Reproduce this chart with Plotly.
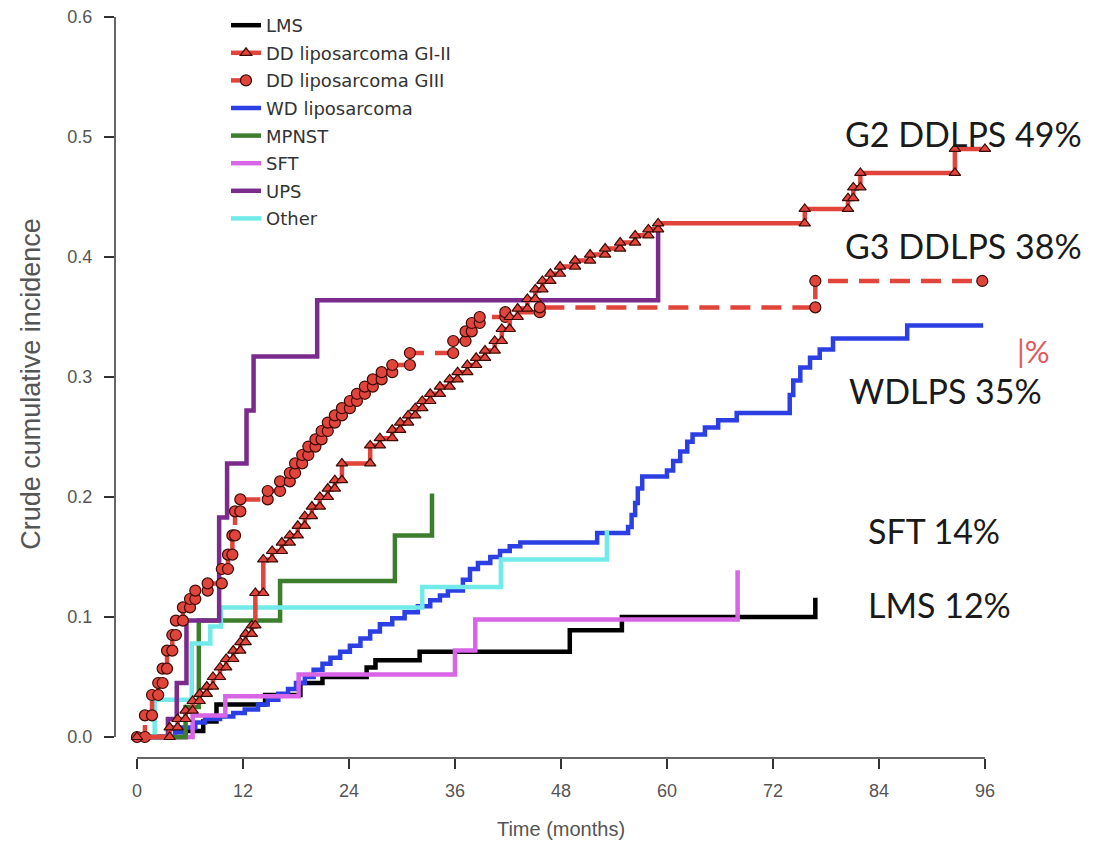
import plotly.graph_objects as go

# ---------------- data (months, crude cumulative incidence) ----------------
series_names = ["LMS", "DD liposarcoma GI-II", "DD liposarcoma GIII", "WD liposarcoma",
                "MPNST", "SFT", "UPS", "Other"]

lms_t = [0, 5.5, 7.5, 9.0, 14.5, 18.5, 21.0, 26.0, 27.0, 32.0, 49.0, 54.9, 76.8]
lms_ci = [0, 0.005, 0.013, 0.027, 0.035, 0.045, 0.050, 0.058, 0.064, 0.071, 0.089, 0.100, 0.116]

ddg2_t = [0, 3.7, 4.6, 5.5, 6.3, 7.1, 7.9, 8.6, 9.4, 10.1, 10.9, 11.7, 12.3, 13.0, 13.4, 14.3,
          15.3, 16.4, 17.3, 18.2, 19.0, 19.8, 20.7, 21.6, 22.4, 23.2, 26.4, 27.5, 28.9, 29.8,
          30.7, 31.5, 32.3, 33.2, 34.3, 35.4, 36.3, 37.4, 38.4, 39.4, 40.5, 41.3, 42.2, 43.1,
          44.2, 45.1, 45.9, 46.8, 47.9, 49.6, 51.3, 53.0, 54.7, 56.4, 57.9, 59.0, 75.6, 80.5,
          81.1, 81.9, 92.6]
ddg2_ci = [0, 0.008, 0.015, 0.022, 0.030, 0.036, 0.042, 0.050, 0.058, 0.065, 0.072, 0.079,
           0.086, 0.093, 0.120, 0.148, 0.155, 0.162, 0.168, 0.176, 0.184, 0.192, 0.200, 0.207,
           0.214, 0.228, 0.243, 0.249, 0.256, 0.262, 0.268, 0.274, 0.280, 0.286, 0.292, 0.298,
           0.304, 0.310, 0.316, 0.322, 0.330, 0.340, 0.350, 0.357, 0.365, 0.373, 0.380, 0.386,
           0.392, 0.397, 0.402, 0.407, 0.412, 0.418, 0.423, 0.428, 0.440, 0.449, 0.458, 0.470,
           0.490]

ddg3_t = [0, 0.9, 1.7, 2.4, 2.9, 3.4, 4.0, 4.4, 5.2, 6.0, 6.6, 8.0, 9.6, 10.3, 10.8, 11.1,
          11.7, 14.8, 16.2, 17.3, 17.9, 18.7, 19.4, 20.2, 20.9, 21.6, 22.4, 23.2, 24.1, 24.9,
          25.8, 26.7, 27.7, 28.9, 30.9, 35.8, 37.2, 37.9, 38.8, 41.7, 45.6, 76.8]
ddg3_ci = [0, 0.018, 0.035, 0.045, 0.057, 0.072, 0.085, 0.097, 0.108, 0.115, 0.122, 0.128,
           0.140, 0.152, 0.168, 0.188, 0.198, 0.205, 0.213, 0.220, 0.228, 0.235, 0.242, 0.248,
           0.255, 0.262, 0.268, 0.274, 0.280, 0.286, 0.292, 0.298, 0.304, 0.310, 0.320, 0.330,
           0.338, 0.345, 0.350, 0.354, 0.358, 0.380]

wd_t = [0, 4.3, 5.1, 6.6, 7.7, 9.4, 10.9, 12.2, 13.7, 14.8, 16.0, 17.1, 18.0, 19.0, 20.0,
        21.0, 21.9, 23.0, 24.1, 25.3, 26.4, 27.5, 28.9, 30.3, 31.8, 33.2, 34.3, 35.2, 36.9,
        37.7, 38.6, 40.0, 41.1, 42.2, 43.4, 52.1, 55.6, 56.0, 56.4, 56.7, 57.2, 60.0, 60.7,
        61.5, 62.3, 62.9, 64.3, 65.8, 67.9, 73.9, 74.3, 75.1, 76.2, 77.3, 78.8, 87.2]
wd_ci = [0, 0.004, 0.008, 0.012, 0.015, 0.017, 0.020, 0.023, 0.027, 0.031, 0.036, 0.040,
         0.045, 0.050, 0.056, 0.061, 0.066, 0.071, 0.076, 0.082, 0.088, 0.094, 0.099, 0.104,
         0.109, 0.114, 0.118, 0.122, 0.131, 0.140, 0.145, 0.150, 0.155, 0.159, 0.162, 0.170,
         0.175, 0.185, 0.195, 0.207, 0.217, 0.222, 0.230, 0.238, 0.246, 0.252, 0.258, 0.264,
         0.270, 0.285, 0.297, 0.308, 0.316, 0.323, 0.332, 0.343]

mpnst_t = [0, 5.5, 7.0, 16.2, 29.2, 33.4]
mpnst_ci = [0, 0.025, 0.097, 0.130, 0.168, 0.203]

sft_t = [0, 6.3, 10.0, 18.3, 36.0, 38.3, 68.0]
sft_ci = [0, 0.018, 0.034, 0.052, 0.072, 0.098, 0.139]

ups_t = [0, 3.5, 4.5, 5.6, 9.3, 10.2, 12.4, 13.2, 20.4, 59.0]
ups_ci = [0, 0.015, 0.045, 0.097, 0.183, 0.228, 0.272, 0.317, 0.364, 0.428]

other_t = [0, 2.0, 6.2, 8.3, 9.5, 32.3, 41.2, 53.2]
other_ci = [0, 0.031, 0.078, 0.092, 0.108, 0.125, 0.148, 0.172]

# last follow-up time of each curve (months), same order as series_names
followup_end = [76.8, 96.0, 95.7, 95.8, 33.4, 68.0, 59.0, 53.2]

x_ticks = [0, 12, 24, 36, 48, 60, 72, 84, 96]
y_ticks = [0.0, 0.1, 0.2, 0.3, 0.4, 0.5, 0.6]

end_labels = ["G2 DDLPS 49%", "G3 DDLPS 38%", "WDLPS 35%", "SFT 14%", "LMS 12%"]

# ---------------- helpers ----------------
def step_xy(times, vals, t_end):
    xs, ys = [times[0]], [vals[0]]
    for i in range(1, len(times)):
        xs += [times[i], times[i]]
        ys += [vals[i - 1], vals[i]]
    if t_end > times[-1]:
        xs.append(t_end)
        ys.append(vals[-1])
    return xs, ys

RED = "#E0443A"
styles = {
    "LMS": dict(color="#000000"),
    "DD liposarcoma GI-II": dict(color=RED, marker="triangle-up"),
    "DD liposarcoma GIII": dict(color=RED, marker="circle", dash="20px,11px"),
    "WD liposarcoma": dict(color="#2B3FE3"),
    "MPNST": dict(color="#3D7D2E"),
    "SFT": dict(color="#D864E6"),
    "UPS": dict(color="#7A2B8C"),
    "Other": dict(color="#72EAEA"),
}
data = {
    "LMS": (lms_t, lms_ci),
    "DD liposarcoma GI-II": (ddg2_t, ddg2_ci),
    "DD liposarcoma GIII": (ddg3_t, ddg3_ci),
    "WD liposarcoma": (wd_t, wd_ci),
    "MPNST": (mpnst_t, mpnst_ci),
    "SFT": (sft_t, sft_ci),
    "UPS": (ups_t, ups_ci),
    "Other": (other_t, other_ci),
}
ends = dict(zip(series_names, followup_end))

draw_order = ["LMS", "WD liposarcoma", "SFT", "MPNST", "Other", "UPS",
              "DD liposarcoma GIII", "DD liposarcoma GI-II"]

fig = go.Figure()
for name in draw_order:
    t, ci = data[name]
    st = styles[name]
    xs, ys = step_xy(t, ci, ends[name])
    line = dict(color=st["color"], width=4.5)
    if "dash" in st:
        line["dash"] = st["dash"]
    kw = dict(x=xs, y=ys, name=name, line=line, legendgroup=name,
              legendrank=series_names.index(name) + 1, hoverinfo="x+y+name")
    if "marker" in st:
        kw["mode"] = "lines+markers"
        kw["marker"] = dict(symbol=st["marker"], size=11 if st["marker"] == "circle" else 10,
                            color=st["color"], line=dict(color="#3A0A05", width=1.2))
    else:
        kw["mode"] = "lines"
    fig.add_trace(go.Scatter(**kw))

L, R, T, B = 115, 89, 10, 92
W, H = 1096, 850
pw, ph = W - L - R, H - T - B

def px_x(p):
    return (p - L) / pw

def px_y(p):
    return (H - B - p) / ph

AX = "#333333"
TICKFONT = dict(family="Liberation Sans, Arial, sans-serif", size=18, color="#555555")

fig.update_layout(
    width=W, height=H,
    margin=dict(l=L, r=R, t=T, b=B, autoexpand=False),
    paper_bgcolor="white", plot_bgcolor="white",
    showlegend=True,
    legend=dict(x=px_x(226), y=px_y(7), xanchor="left", yanchor="top",
                bgcolor="rgba(0,0,0,0)", tracegroupgap=1.2,
                font=dict(family="DejaVu Sans, Verdana, sans-serif", size=18, color="#333333")),
    xaxis=dict(range=[-2.49, 98.5], tickvals=x_ticks, ticktext=[str(v) for v in x_ticks],
               ticks="outside", ticklen=10, tickwidth=1.5, tickcolor=AX,
               showgrid=False, zeroline=False, showline=False,
               tickfont=TICKFONT, ticklabelstandoff=6,
               title=dict(text="Time (months)", standoff=22,
                          font=dict(family="Liberation Sans, Arial, sans-serif", size=20,
                                    color="#555555"))),
    yaxis=dict(range=[-0.0175, 0.6058], tickvals=y_ticks,
               ticktext=[f"{v:.1f}" for v in y_ticks],
               ticks="outside", ticklen=10, tickwidth=1.5, tickcolor=AX,
               showgrid=False, zeroline=False, showline=False,
               tickfont=TICKFONT, ticklabelstandoff=8,
               title=dict(text="Crude cumulative incidence", standoff=18,
                          font=dict(family="Liberation Sans, Arial, sans-serif",
                                    size=27, color="#555555"))),
    shapes=[
        dict(type="line", xref="x", yref="paper", x0=x_ticks[0], x1=x_ticks[-1], y0=0, y1=0,
             line=dict(color=AX, width=1.5)),
        dict(type="line", xref="paper", yref="y", x0=0, x1=0, y0=y_ticks[0], y1=y_ticks[-1],
             line=dict(color=AX, width=1.5)),
    ],
)

ANNFONT = dict(family="Lato, Noto Sans, sans-serif", size=34, color="#1A1A1A")
label_pos = [(843, 133), (843, 245), (847, 391), (866, 530), (866, 604)]
for text, (px, py) in zip(end_labels, label_pos):
    fig.add_annotation(x=px_x(px), y=px_y(py), xref="paper", yref="paper", text=text,
                       showarrow=False, xanchor="left", yanchor="middle", font=ANNFONT)
fig.add_annotation(x=px_x(1015), y=px_y(351), xref="paper", yref="paper", text="|%",
                   showarrow=False, xanchor="left", yanchor="middle",
                   font=dict(family="Lato, Noto Sans, sans-serif", size=31, color="#E05A5A"))

fig.write_html("out.html")
